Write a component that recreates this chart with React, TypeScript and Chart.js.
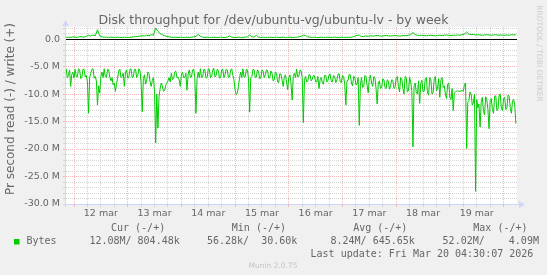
import React, { useEffect, useRef } from "react";
import { Chart, registerables } from "chart.js";

Chart.register(...registerables);

// Time axis: hours relative to 12 mar 00:00
const readStartHour = -3.5;
const readStepHours = 0.5;
const writeStartHour = -3.5;
const writeStepHours = 1;
const xMinHour = -3.58;
const xMaxHour = 198;
const dayLabels = ["12 mar", "13 mar", "14 mar", "15 mar", "16 mar", "17 mar", "18 mar", "19 mar"];

// Read throughput (MB/s, drawn below zero), 30-minute samples
const readMB = [
  5.4, 7.0, 6.6, 5.6, 8.6, 6.4, 6.0, 7.1, 5.5, 6.8, 6.9, 5.4, 5.6, 7.2, 7.0, 5.5, 5.5, 6.9, 6.6, 7.8,
  13.5, 7.0, 6.2, 5.5, 5.4, 7.1, 6.8, 7.6, 12.0, 8.5, 9.8, 6.8, 6.0, 7.0, 5.4, 6.8, 7.0, 5.5, 5.6, 6.9,
  7.6, 7.0, 8.3, 8.0, 9.5, 8.2, 7.0, 5.8, 5.5, 7.0, 6.8, 6.2, 8.6, 6.0, 5.6, 7.1, 7.0, 5.5, 5.4, 7.0,
  6.9, 5.5, 5.5, 7.0, 6.6, 5.4, 5.8, 8.0, 13.2, 7.2, 6.5, 8.2, 7.5, 6.0, 6.2, 7.8, 8.6, 7.5, 7.0, 9.5,
  18.9, 10.0, 16.2, 10.5, 9.0, 8.0, 8.5, 9.5, 9.3, 8.4, 8.0, 7.6, 7.0, 7.8, 6.2, 7.4, 7.2, 6.0, 5.8, 7.0,
  6.9, 7.4, 8.6, 6.5, 6.0, 7.0, 7.0, 6.2, 9.3, 6.5, 5.6, 7.0, 6.9, 5.6, 5.5, 7.0, 13.5, 7.2, 6.0, 7.0,
  5.4, 7.0, 6.9, 5.5, 5.6, 7.1, 7.0, 5.4, 5.5, 7.0, 6.8, 5.6, 5.3, 6.9, 6.6, 5.5, 5.7, 7.1, 7.0, 5.6,
  5.5, 7.0, 6.5, 5.5, 5.6, 7.0, 6.9, 5.6, 5.4, 6.6, 7.4, 9.3, 10.1, 9.8, 8.6, 7.0, 6.0, 7.0, 5.4, 6.9,
  6.9, 5.5, 5.6, 7.2, 13.3, 7.0, 6.8, 5.5, 5.6, 7.0, 6.9, 5.6, 6.0, 7.2, 7.1, 5.6, 5.8, 7.0, 6.5, 5.6,
  5.7, 7.1, 7.0, 5.8, 6.2, 7.6, 7.4, 6.0, 6.2, 7.8, 7.9, 6.3, 6.4, 7.5, 8.6, 6.8, 6.5, 7.8, 9.2, 7.0,
  6.5, 8.0, 11.1, 6.8, 6.2, 7.0, 5.5, 6.9, 6.8, 5.6, 5.8, 7.0, 15.2, 7.5, 6.8, 7.8, 7.6, 6.5, 6.5, 7.6,
  7.3, 6.6, 6.7, 7.8, 7.8, 6.8, 9.0, 7.4, 7.0, 8.0, 8.2, 6.6, 6.6, 7.8, 7.5, 6.5, 6.4, 7.7, 7.8, 6.6,
  6.8, 7.9, 7.4, 6.4, 6.3, 7.8, 7.9, 6.6, 6.8, 8.2, 12.0, 7.6, 7.5, 6.4, 6.5, 8.0, 8.5, 6.8, 6.9, 8.3,
  8.2, 7.0, 15.7, 8.4, 7.0, 8.8, 8.6, 6.6, 6.8, 8.4, 9.8, 7.2, 6.6, 8.0, 8.6, 6.8, 7.0, 9.0, 11.8, 8.0,
  7.6, 9.0, 8.8, 7.2, 7.4, 8.8, 9.0, 7.4, 7.6, 9.1, 8.5, 7.4, 7.5, 9.0, 8.8, 7.0, 6.8, 8.6, 9.6, 7.0,
  7.2, 9.0, 10.0, 6.8, 7.0, 9.6, 9.4, 7.0, 7.8, 9.5, 19.6, 8.5, 8.0, 9.8, 10.0, 7.6, 11.7, 8.0, 7.5, 9.6,
  9.5, 7.2, 7.0, 9.8, 10.2, 7.0, 7.4, 10.0, 9.8, 7.2, 6.8, 9.4, 9.0, 7.2, 10.6, 7.4, 7.0, 8.8, 8.5, 10.0,
  10.8, 8.2, 8.0, 10.6, 11.0, 9.0, 13.0, 9.8, 9.6, 9.5, 9.4, 9.5, 9.5, 9.4, 9.4, 9.5, 8.3, 8.0, 19.9, 11.5,
  11.2, 9.6, 10.0, 12.0, 11.6, 10.0, 27.7, 11.0, 12.5, 11.8, 16.0, 11.5, 10.6, 13.0, 13.8, 10.5, 11.0, 12.8, 16.3, 11.2,
  10.8, 12.8, 13.5, 10.4, 10.3, 13.0, 12.8, 10.2, 10.0, 12.5, 13.0, 10.8, 10.6, 12.8, 12.5, 10.2, 10.4, 12.6, 13.5, 11.2,
  11.0, 12.0, 15.4,
];

// Write throughput (MB/s, drawn above zero), hourly samples
const writeMB = [
  0.3, 0.35, 0.3, 0.4, 0.35, 0.3, 0.45, 0.4, 0.35,
  0.5, 0.7, 0.55, 0.75, 0.6,
  1.7, 0.6,
  0.4, 0.35, 0.35, 0.3, 0.35, 0.3, 0.3, 0.35, 0.3, 0.3, 0.35, 0.3, 0.3, 0.35, 0.4, 0.45,
  0.5, 0.55, 0.6, 0.55, 0.7, 0.6, 0.8, 0.7, 2.0, 1.4, 1.0, 0.8, 0.6, 0.5, 0.4,
  0.35, 0.3, 0.35, 0.3, 0.35, 0.3, 0.3, 0.35, 0.3, 0.35, 0.4, 0.5, 0.85, 0.5, 0.35,
  0.3, 0.35, 0.3, 0.3, 0.35, 0.3, 0.3, 0.35, 0.3, 0.3, 0.35,
  0.6, 0.35,
  0.3, 0.3, 0.35, 0.3, 0.3, 0.35, 0.4,
  0.75, 0.4, 0.35, 0.7, 0.35,
  0.3, 0.35, 0.3, 0.3, 0.35, 0.3, 0.3, 0.35, 0.3, 0.3, 0.35, 0.3, 0.3, 0.35, 0.3, 0.3, 0.35, 0.4, 0.5,
  0.7, 0.65, 0.4,
  0.35, 0.3, 0.35, 0.3, 0.3, 0.35, 0.3, 0.3, 0.35, 0.3, 0.3, 0.35, 0.3, 0.3, 0.35, 0.3, 0.3, 0.35, 0.3, 0.4, 0.5,
  0.7, 0.7, 0.45,
  0.5, 0.55, 0.5, 0.6, 0.55, 0.6, 0.65, 0.6, 0.55, 0.6, 0.65, 0.6, 0.55, 0.6, 0.65, 0.6, 0.55, 0.6, 0.65, 0.6, 0.7, 0.8,
  1.2, 0.8,
  0.7, 0.65, 0.7, 0.65, 0.6, 0.65, 0.7, 0.65, 0.6, 0.65, 0.7, 0.65, 0.7, 0.75, 0.7, 0.65, 0.7, 0.7, 0.75, 0.7, 0.8, 0.9,
  1.3, 0.9,
  0.8, 0.85, 0.75, 0.8, 0.75, 0.7, 0.75, 0.8, 0.75, 0.7, 0.75, 0.8, 0.7, 0.75, 0.7, 0.7, 0.75, 0.7, 0.8, 0.75, 0.8,
];

const yMin = -30;
const yMax = 2.2;
const yGridStep = 1;
const yLabelStep = 5;
const xGridStepHours = 6;

const titleText = "Disk throughput for /dev/ubuntu-vg/ubuntu-lv - by week";
const yTitleText = "Pr second read (-) / write (+)";
const sideText = "RRDTOOL / TOBI OETIKER";
const seriesName = "Bytes";
const legendHeaders = ["Cur (-/+)", "Min (-/+)", "Avg (-/+)", "Max (-/+)"];
const legendValues = ["12.08M/ 804.48k", "56.28k/  30.60k", "8.24M/ 645.65k", "52.02M/    4.09M"];
const lastUpdate = "Last update: Fri Mar 20 04:30:07 2026";
const versionText = "Munin 2.0.75";

const LINE = "#00cc00";
const FONT = "#666666";
const AXIS = "#cfd6f8";
const MINOR = "#d4d4d4";
const MAJOR = "#f4b8b8";

const muninPlugin = {
  id: "munin",
  beforeDraw(chart: any) {
    const { ctx, chartArea: a, width, height } = chart;
    ctx.save();
    ctx.fillStyle = "#f0f0f0";
    ctx.fillRect(0, 0, width, height);
    ctx.fillStyle = "#ffffff";
    ctx.fillRect(a.left, a.top, a.right - a.left, a.bottom - a.top);
    ctx.restore();
  },
  beforeDatasetsDraw(chart: any) {
    const { ctx, chartArea: a, scales } = chart;
    const xs = scales.x;
    const ys = scales.y;
    ctx.save();
    ctx.lineWidth = 1;
    for (let v = yMin + yGridStep; v <= yMax; v += yGridStep) {
      if (v === 0) continue;
      const y = Math.floor(ys.getPixelForValue(v)) + 0.5;
      const major = v % yLabelStep === 0;
      ctx.strokeStyle = major ? MAJOR : MINOR;
      ctx.setLineDash([1, 1]);
      ctx.beginPath();
      ctx.moveTo(a.left, y);
      ctx.lineTo(a.right, y);
      ctx.stroke();
      ctx.setLineDash([]);
      ctx.beginPath();
      ctx.moveTo(a.left - 3, y);
      ctx.lineTo(a.left - 1, y);
      ctx.stroke();
    }
    for (let h = 0; h <= xMaxHour; h += xGridStepHours) {
      const x = Math.floor(xs.getPixelForValue(h)) + 0.5;
      if (x > a.right) break;
      const major = h % 24 === 0;
      ctx.strokeStyle = major ? MAJOR : MINOR;
      ctx.setLineDash([1, 1]);
      ctx.beginPath();
      ctx.moveTo(x, a.top);
      ctx.lineTo(x, a.bottom);
      ctx.stroke();
      ctx.setLineDash([]);
      ctx.beginPath();
      ctx.moveTo(x, a.bottom + 1);
      ctx.lineTo(x, a.bottom + 3);
      ctx.stroke();
    }
    const y0 = Math.floor(ys.getPixelForValue(0)) + 0.5;
    ctx.strokeStyle = "#000000";
    ctx.beginPath();
    ctx.moveTo(a.left, y0);
    ctx.lineTo(a.right, y0);
    ctx.stroke();
    ctx.restore();
  },
  afterDatasetsDraw(chart: any) {
    const { ctx, chartArea: a } = chart;
    ctx.save();
    ctx.strokeStyle = AXIS;
    ctx.fillStyle = AXIS;
    ctx.lineWidth = 1;
    const lx = Math.floor(a.left) - 0.5;
    const by = Math.floor(a.bottom) + 0.5;
    ctx.beginPath();
    ctx.moveTo(lx, a.top - 3);
    ctx.lineTo(lx, a.bottom + 3);
    ctx.stroke();
    ctx.beginPath();
    ctx.moveTo(a.left - 3, by);
    ctx.lineTo(a.right + 3, by);
    ctx.stroke();
    ctx.beginPath();
    ctx.moveTo(a.right + 2, by - 3.5);
    ctx.lineTo(a.right + 8, by);
    ctx.lineTo(a.right + 2, by + 3.5);
    ctx.closePath();
    ctx.fill();
    ctx.beginPath();
    ctx.moveTo(lx - 3.5, a.top - 1);
    ctx.lineTo(lx, a.top - 7);
    ctx.lineTo(lx + 3.5, a.top - 1);
    ctx.closePath();
    ctx.fill();
    ctx.restore();
  },
  afterDraw(chart: any) {
    const { ctx } = chart;
    ctx.save();
    ctx.fillStyle = FONT;
    ctx.textAlign = "center";
    ctx.textBaseline = "alphabetic";
    ctx.font = '12.5px "DejaVu Sans"';
    ctx.fillText(titleText, 273.5, 24);

    ctx.save();
    ctx.translate(10.5, 109);
    ctx.rotate(-Math.PI / 2);
    ctx.textBaseline = "middle";
    ctx.font = '12px "DejaVu Sans"';
    ctx.fillText(yTitleText, 0, 0);
    ctx.restore();

    ctx.save();
    ctx.translate(538.5, 53.5);
    ctx.rotate(Math.PI / 2);
    ctx.textBaseline = "middle";
    ctx.fillStyle = "#cccccc";
    ctx.font = '7.5px "DejaVu Sans"';
    ctx.fillText(sideText, 0, 0);
    ctx.restore();

    ctx.textAlign = "left";
    ctx.textBaseline = "middle";
    ctx.font = '10px "DejaVu Sans Mono"';
    const headerX = [111, 231.8, 353.2, 473.3];
    legendHeaders.forEach((t, i) => ctx.fillText(t, headerX[i], 228.6));
    const valueX = [89.4, 207, 330.5, 442.6];
    legendValues.forEach((t, i) => ctx.fillText(t, valueX[i], 241.5));
    ctx.fillText(seriesName, 26.5, 241.5);
    ctx.textAlign = "right";
    ctx.fillText(lastUpdate, 533.3, 254.1);

    ctx.fillStyle = LINE;
    ctx.fillRect(14, 239, 5.5, 5.5);

    ctx.fillStyle = "#c4c4c4";
    ctx.textAlign = "center";
    ctx.font = '7.5px "DejaVu Sans"';
    ctx.fillText(versionText, 273, 266.3);
    ctx.restore();
  },
};

export default function App() {
  const ref = useRef<HTMLCanvasElement>(null);
  useEffect(() => {
    const canvas = ref.current;
    if (!canvas) return;
    const readPoints = readMB.map((v, i) => ({ x: readStartHour + i * readStepHours, y: -v }));
    const writePoints = writeMB.map((v, i) => ({ x: writeStartHour + i * writeStepHours, y: v }));
    const tickFont = { family: "DejaVu Sans", size: 9.5 };
    const chart = new Chart(canvas, {
      type: "line",
      data: {
        datasets: [
          { label: "write", data: writePoints, borderColor: LINE, borderWidth: 1, pointRadius: 0, tension: 0, fill: false },
          { label: "read", data: readPoints, borderColor: LINE, borderWidth: 1, pointRadius: 0, tension: 0, fill: false },
        ],
      },
      options: {
        responsive: false,
        animation: false,
        devicePixelRatio: 1,
        layout: { padding: { top: 27, right: 30, left: 0, bottom: 0 } },
        plugins: { legend: { display: false }, tooltip: { enabled: false }, title: { display: false } },
        scales: {
          x: {
            type: "linear",
            min: xMinHour,
            max: xMaxHour,
            grid: { display: false, drawTicks: false },
            border: { display: false },
            ticks: {
              stepSize: xGridStepHours,
              autoSkip: false,
              maxRotation: 0,
              minRotation: 0,
              includeBounds: false,
              padding: 4,
              color: FONT,
              font: tickFont,
              callback: (value: any) => {
                const h = Number(value);
                const m = ((h % 24) + 24) % 24;
                if (m === 12) return dayLabels[Math.floor(h / 24)] ?? "";
                return "";
              },
            },
            afterFit: (s: any) => {
              s.height = 71;
            },
          },
          y: {
            type: "linear",
            min: yMin,
            max: yMax,
            grid: { display: false, drawTicks: false },
            border: { display: false },
            ticks: {
              stepSize: yGridStep,
              autoSkip: false,
              includeBounds: false,
              padding: 6,
              color: FONT,
              font: tickFont,
              callback: (value: any) => {
                const v = Number(value);
                if (Math.abs(v % yLabelStep) > 1e-9) return "";
                return v === 0 ? "0.0" : v.toFixed(1) + " M";
              },
            },
            afterFit: (s: any) => {
              s.width = 66;
            },
          },
        },
      },
      plugins: [muninPlugin],
    } as any);
    return () => chart.destroy();
  }, []);
  return (
    <div style={{ position: "fixed", left: 0, top: 0, width: 547, height: 275 }}>
      <canvas ref={ref} width={547} height={275} style={{ display: "block" }} />
    </div>
  );
}
